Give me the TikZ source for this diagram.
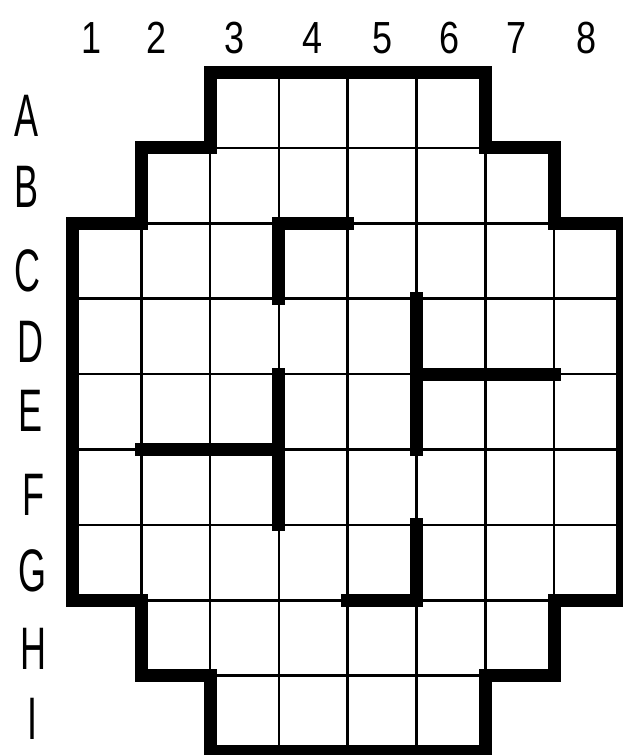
\documentclass[tikz,border=0pt]{standalone}
\usepackage{fontspec}
\setmainfont{Liberation Sans}
\tikzstyle{wall}=[line width=13pt,line join=miter,line cap=rect]
\tikzstyle{cellline}=[line width=2.5pt]
\tikzstyle{collbl}=[font=\fontsize{45}{50}\selectfont,xscale=0.8,inner sep=0pt]
\tikzstyle{rowlbl}=[font=\fontsize{60}{70}\selectfont,xscale=0.6,inner sep=0pt]

\begin{document}
\begin{tikzpicture}[x=1pt,y=-1pt]
\useasboundingbox (0,0) rectangle (623,755);
\fill[white] (0,0) rectangle (623,755);
\begin{scope}[shift={(72.5pt,-72.5pt)},x=68.8pt,y=-75.4pt]
\begin{scope}
\clip (2,0) -- (6,0) -- (6,1) -- (7,1) -- (7,2) -- (8,2) -- (8,7) -- (7,7) -- (7,8) -- (6,8) -- (6,9) -- (2,9) -- (2,8) -- (1,8) -- (1,7) -- (0,7) -- (0,2) -- (1,2) -- (1,1) -- (2,1) -- cycle;
\foreach \i in {1,...,7} \draw[cellline] (\i,0) -- (\i,9);
\foreach \j in {1,...,8} \draw[cellline] (0,\j) -- (8,\j);
\end{scope}
\draw[wall] (2,0) -- (6,0) -- (6,1) -- (7,1) -- (7,2) -- (8,2) -- (8,7) -- (7,7) -- (7,8) -- (6,8) -- (6,9) -- (2,9) -- (2,8) -- (1,8) -- (1,7) -- (0,7) -- (0,2) -- (1,2) -- (1,1) -- (2,1) -- cycle;
\draw[wall] (4,2) -- (3,2) -- (3,3);
\draw[wall] (5,3) -- (5,5);
\draw[wall] (5,4) -- (7,4);
\draw[wall] (1,5) -- (3,5);
\draw[wall] (3,4) -- (3,6);
\draw[wall] (5,6) -- (5,7) -- (4,7);
\end{scope}
\foreach \x/\n in {92/1,157/2,235/3,313/4,383/5,450/6,517/7,587/8}
  \node[collbl] (c\n) at (\x,38) {\n};
\foreach \x/\y/\l in {27/116/A,27/187/B,27/271/C,30/342/D,31/411/E,33/495/F,33/571/G,33/649/H,33/719/I}
  \node[rowlbl] (r\l) at (\x,\y) {\l};
\end{tikzpicture}
\end{document}
